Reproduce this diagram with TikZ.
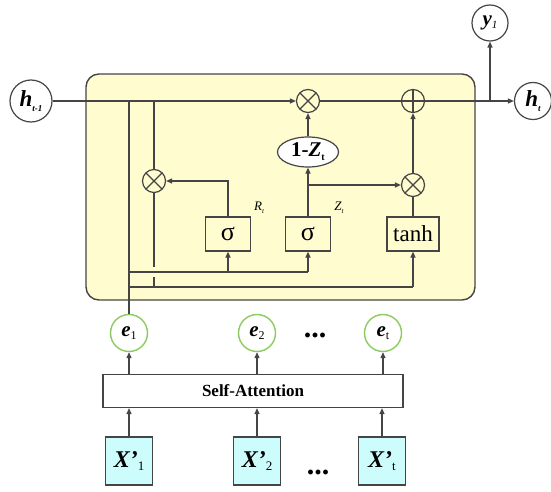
\documentclass[tikz,border=0pt]{standalone}
\usepackage{fontspec}
\setmainfont{Liberation Serif}
\usetikzlibrary{arrows.meta,shapes.geometric}
\definecolor{lc}{HTML}{454545}
\definecolor{ybg}{HTML}{FFFCCF}
\definecolor{gc}{HTML}{8CCB5E}
\definecolor{cy}{HTML}{CCFCFC}
\newcommand{\fs}[1]{\fontsize{#1}{#1}\selectfont}
\newcommand{\prm}{\symbol{39}}
\begin{document}
\begin{tikzpicture}[x=1pt,y=-1pt,
  line width=1.2pt, draw=lc,
  arr/.style={draw=lc,line width=1.2pt,-{Triangle[length=6pt,width=5pt]}},
  ln/.style={draw=lc,line width=1.2pt},
  otimes/.style={circle,draw=lc,fill=ybg,minimum size=23pt,inner sep=0pt,line width=1.2pt,
    path picture={\draw[lc,line width=1.1pt] (path picture bounding box.north west) -- (path picture bounding box.south east) (path picture bounding box.north east) -- (path picture bounding box.south west);}},
  oplus/.style={circle,draw=lc,fill=ybg,minimum size=23pt,inner sep=0pt,line width=1.2pt,
    path picture={\draw[lc,line width=1.1pt] (path picture bounding box.north) -- (path picture bounding box.south) (path picture bounding box.east) -- (path picture bounding box.west);}},
  hnode/.style={circle,draw=lc,fill=white,inner sep=0pt,line width=1.2pt},
  enode/.style={circle,draw=gc,fill=white,minimum size=37pt,inner sep=0pt,line width=1.4pt},
  gate/.style={rectangle,draw=lc,fill=ybg,minimum height=34pt,inner sep=0pt,line width=1.2pt},
  xnode/.style={rectangle,draw=lc,fill=cy,minimum width=47pt,minimum height=48pt,inner sep=0pt,line width=1.2pt},
  dots/.style={anchor=base,inner sep=0pt}
]
\useasboundingbox (0,0) rectangle (551,492);
% background cell
\node[draw=lc,fill=ybg,line width=1.4pt,rounded corners=13pt,minimum width=389pt,minimum height=226pt,inner sep=0pt] (cell) at (280.5,187) {};

% outer nodes
\node[hnode,minimum size=42pt] (ht1) at (31,101) {\fs{23}\bfseries\itshape h\raisebox{-0.4ex}{\fs{9}t-1}};
\node[hnode,minimum size=37pt] (ht) at (533,101) {\fs{23}\bfseries\itshape h\raisebox{-0.4ex}{\fs{9}t}};
\node[hnode,minimum size=36pt] (y1) at (490,23) {\fs{21}\bfseries\itshape y\raisebox{-0.3ex}{\fs{11}\mdseries 1}};

% operators
\node[otimes] (m1) at (308,101) {};
\node[oplus] (pl) at (413,101) {};
\node[otimes] (mR) at (154,181) {};
\node[otimes] (mZ) at (413,185) {};
\node[ellipse,draw=lc,fill=white,line width=1.2pt,minimum width=61pt,minimum height=30pt,inner sep=0pt] (oz) at (308,152) {\fs{21}\bfseries 1-\textit{Z}\raisebox{-0.4ex}{\fs{10}t}};

% gates
\node[gate,minimum width=45pt] (sR) at (228,234) {\fs{26}σ};
\node[gate,minimum width=45pt] (sZ) at (308,234) {\fs{26}σ};
\node[gate,minimum width=52pt] (th) at (413,234) {\fs{23}tanh};
\node (lR) at (259,208) {\fs{13}\itshape R\raisebox{-0.5ex}{\fs{7}t}};
\node (lZ) at (339,208) {\fs{13}\itshape Z\raisebox{-0.5ex}{\fs{7}t}};

% inputs
\node[enode] (e1) at (129,333) {\fs{21}\bfseries\itshape e\raisebox{-0.3ex}{\fs{12}\mdseries\upshape 1}};
\node[enode] (e2) at (257,333) {\fs{21}\bfseries\itshape e\raisebox{-0.3ex}{\fs{12}\mdseries\upshape 2}};
\node[enode] (et) at (383,333) {\fs{21}\bfseries\itshape e\raisebox{-0.3ex}{\fs{12}\mdseries\upshape t}};
\node[dots] (d1) at (315,337) {\fs{30}\bfseries ...};
\node[rectangle,draw=lc,fill=white,line width=1.2pt,minimum width=300pt,minimum height=33pt,inner sep=0pt] (sa) at (253,391) {\fs{17}\bfseries Self-Attention};
\node[xnode] (x1) at (129,461) {\fs{24}\bfseries\itshape X\prm\raisebox{-0.3ex}{\fs{13}\mdseries\upshape 1}};
\node[xnode] (x2) at (257,461) {\fs{24}\bfseries\itshape X\prm\raisebox{-0.3ex}{\fs{13}\mdseries\upshape 2}};
\node[xnode] (xt) at (382,461) {\fs{24}\bfseries\itshape X\prm\raisebox{-0.3ex}{\fs{13}\mdseries\upshape t}};
\node[dots] (d2) at (318,474) {\fs{30}\bfseries ...};

% coordinates
\coordinate (a1) at (129,101);
\coordinate (a2) at (154,101);
\coordinate (u0) at (129,272);
\coordinate (uR) at (228,272);
\coordinate (uZ) at (308,272);
\coordinate (l0) at (129,287);
\coordinate (lT) at (413,287);
\coordinate (j1) at (154,267);
\coordinate (j2) at (154,277);
\coordinate (j3) at (154,287);
\coordinate (zb) at (308,185);
\coordinate (yb) at (490,101);

% connectors
\draw[arr] (ht1) -- (m1);
\draw[ln] (a1) -- (e1);
\draw[ln] (a2) -- (mR);
\draw[arr] (sR) |- (mR);
\draw[ln] (mR) -- (j1);
\draw[ln] (j2) -- (j3);
\draw[ln] (u0) -- (uZ);
\draw[arr] (uZ) -- (sZ);
\draw[arr] (uR) -- (sR);
\draw[ln] (l0) -- (lT);
\draw[arr] (lT) -- (th);
\draw[arr] (sZ) -- (oz);
\draw[arr] (zb) -- (mZ);
\draw[arr] (oz) -- (m1);
\draw[ln] (th) -- (mZ);
\draw[arr] (mZ) -- (pl);
\draw[ln] (m1) -- (pl);
\draw[arr] (pl) -- (ht);
\draw[arr] (yb) -- (y1);
\draw[arr] (x1) -- (x1 |- sa.south);
\draw[arr] (x2) -- (x2 |- sa.south);
\draw[arr] (xt) -- (xt |- sa.south);
\draw[arr] (e1 |- sa.north) -- (e1);
\draw[arr] (e2 |- sa.north) -- (e2);
\draw[arr] (et |- sa.north) -- (et);
\end{tikzpicture}
\end{document}
